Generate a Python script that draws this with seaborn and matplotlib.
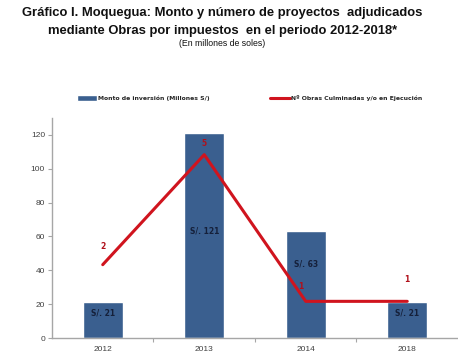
import pandas as pd
import seaborn as sns
import matplotlib.pyplot as plt

# Data
years = ['2012', '2013', '2014', '2018']
monto = [21, 121, 63, 21]          # Monto de inversión (Millones S/)
obras = [2, 5, 1, 1]               # Nº Obras Culminadas y/o en Ejecución
monto_labels = ['S/. 21', 'S/. 121', 'S/. 63', 'S/. 21']

df = pd.DataFrame({'year': years, 'monto': monto, 'obras': obras})

sns.set_style('white')
plt.rcParams['font.family'] = ['Liberation Sans', 'DejaVu Sans']

bar_color = '#3a5f8f'
line_color = '#d0141e'
axis_grey = '#a6a6a6'
text_grey = '#404040'

fig = plt.figure(figsize=(4.58, 3.64), dpi=100)
ax = fig.add_axes([0.1135, 0.0714, 0.8865, 0.6044])

sns.barplot(data=df, x='year', y='monto', color=bar_color, width=0.39,
            saturation=1, ax=ax, label='Monto de inversión (Millones S/)')
if ax.get_legend() is not None:
    ax.get_legend().remove()
ax.set_xlim(-0.5, 3.5)
ax.set_ylim(0, 130)
ax.set_yticks(range(0, 121, 20))
ax.set_xlabel('')
ax.set_ylabel('')

# bar labels inside the bars
label_heights = [15, 63, 44, 15]
for i, (lab, h) in enumerate(zip(monto_labels, label_heights)):
    ax.text(i, h, lab, ha='center', va='center', fontsize=5.5,
            fontweight='bold', color='#15203a', family='DejaVu Sans')

# secondary axis for the line
ax2 = ax.twinx()
sns.lineplot(x=list(range(len(years))), y=obras, color=line_color,
             linewidth=2.2, ax=ax2, label='Nº Obras Culminadas y/o en Ejecución',
             legend=False)
ax2.set_ylim(0, 6)
ax2.set_xlim(-0.5, 3.5)
ax2.axis('off')
offsets = [(0, 0.5), (0, 0.3), (-0.05, 0.4), (0, 0.6)]
for i, (v, (dx, dy)) in enumerate(zip(obras, offsets)):
    ax2.text(i + dx, v + dy, str(v), ha='center', va='center', fontsize=5.5,
             fontweight='bold', color='#b0101a', family='DejaVu Sans')

# axis styling
for s in ['top', 'right']:
    ax.spines[s].set_visible(False)
for s in ['left', 'bottom']:
    ax.spines[s].set_color(axis_grey)
    ax.spines[s].set_linewidth(1)
ax.tick_params(axis='y', length=3, width=0.8, color=axis_grey, labelsize=6,
               labelcolor=text_grey, pad=2, left=True)
ax.tick_params(axis='x', length=0, labelsize=6, labelcolor=text_grey, pad=6)
ax.set_xticks([0.5, 1.5, 2.5], minor=True)
ax.tick_params(axis='x', which='minor', length=3, width=0.8, color=axis_grey,
               bottom=True)

# legend at the top
h1, l1 = ax.get_legend_handles_labels()
h2, l2 = ax2.get_legend_handles_labels()
leg = fig.legend(h1 + h2, l1 + l2, loc='center', bbox_to_anchor=(0.545, 0.73),
                 ncol=2, frameon=False, handlelength=3.2,
                 handleheight=1.0, columnspacing=10, handletextpad=0.1,
                 prop={'family': 'DejaVu Sans', 'weight': 'bold', 'size': 4.4})

# titles
fig.text(0.485, 0.963, 'Gráfico I. Moquegua: Monto y número de proyectos  adjudicados',
         ha='center', va='center', fontsize=9.4, fontweight='bold', color='#111111')
fig.text(0.485, 0.916, 'mediante Obras por impuestos  en el periodo 2012-2018*',
         ha='center', va='center', fontsize=9.4, fontweight='bold', color='#111111')
fig.text(0.485, 0.88, '(En millones de soles)', ha='center', va='center',
         fontsize=6.3, color='#111111')

fig.savefig('out.png', dpi=100)
